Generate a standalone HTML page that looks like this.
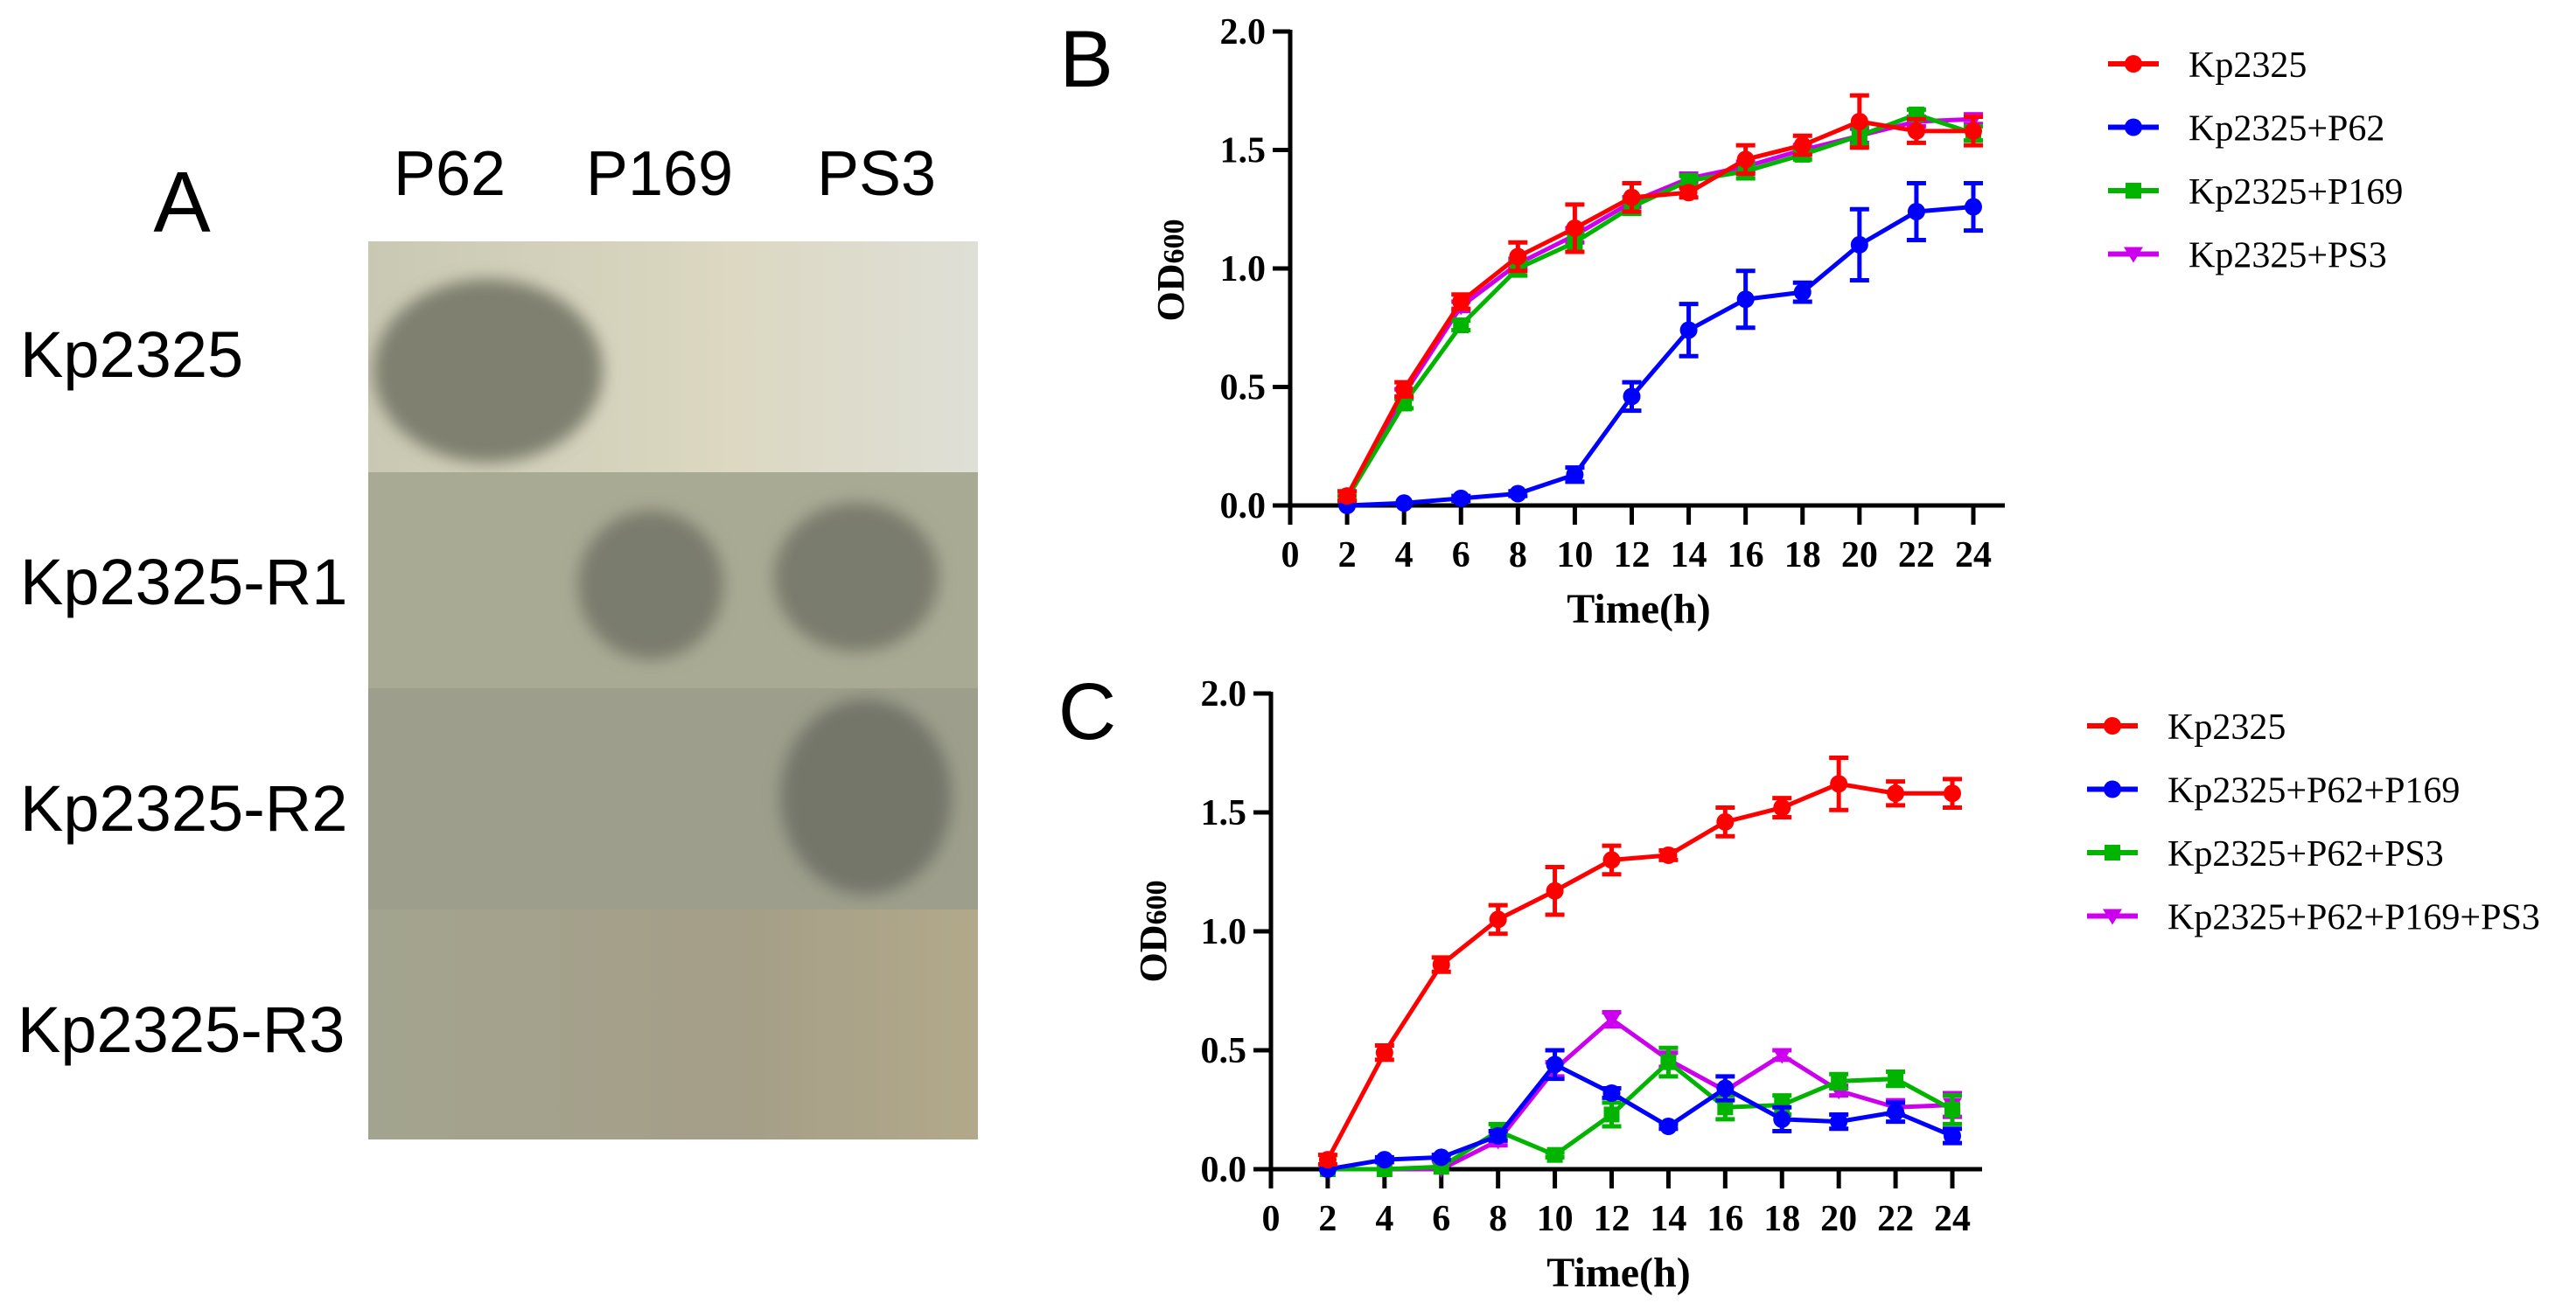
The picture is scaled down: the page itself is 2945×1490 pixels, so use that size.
<!DOCTYPE html>
<html><head><meta charset="utf-8"><style>
html,body{margin:0;padding:0;background:#fff;}
svg{display:block;}
</style></head><body>
<svg id="fig" width="2945" height="1490" viewBox="0 0 2945 1490" xmlns="http://www.w3.org/2000/svg">
<defs>
<linearGradient id="r1" x1="0" x2="1" y1="0" y2="0"><stop offset="0" stop-color="#c9c9b3"/><stop offset="0.6" stop-color="#dcd8c2"/><stop offset="1" stop-color="#dedfd6"/></linearGradient>
<linearGradient id="r4" x1="0" x2="1" y1="0" y2="0"><stop offset="0" stop-color="#a3a48f"/><stop offset="0.6" stop-color="#a59e88"/><stop offset="1" stop-color="#b2a98a"/></linearGradient>
<filter id="blur" x="-30%" y="-30%" width="160%" height="160%"><feGaussianBlur stdDeviation="9"/></filter>
<clipPath id="c1"><rect x="421" y="276" width="697" height="264"/></clipPath>
<clipPath id="c2"><rect x="421" y="540" width="697" height="247"/></clipPath>
<clipPath id="c3"><rect x="421" y="787" width="697" height="253"/></clipPath>
</defs>
<g>
<text x="208" y="265" font-family="Liberation Sans, sans-serif" font-size="98" text-anchor="middle">A</text>
<g font-family="Liberation Sans, sans-serif" font-size="72" text-anchor="middle">
<text x="514" y="223">P62</text>
<text x="754" y="223">P169</text>
<text x="1002" y="223">PS3</text>
</g>
<g font-family="Liberation Sans, sans-serif" font-size="74">
<text x="23" y="431">Kp2325</text>
<text x="23" y="691">Kp2325-R1</text>
<text x="23" y="950">Kp2325-R2</text>
<text x="20" y="1203">Kp2325-R3</text>
</g>
<rect x="421" y="276" width="697" height="264" fill="url(#r1)"/>
<rect x="421" y="540" width="697" height="247" fill="#a9aa94"/>
<rect x="421" y="787" width="697" height="253" fill="#9d9f8c"/>
<rect x="421" y="1040" width="697" height="263" fill="url(#r4)"/>
<ellipse clip-path="url(#c1)" cx="558" cy="424" rx="131" ry="105" fill="#7f8070" filter="url(#blur)"/>
<ellipse clip-path="url(#c2)" cx="744" cy="669" rx="83" ry="85" fill="#7a7b6d" filter="url(#blur)"/>
<ellipse clip-path="url(#c2)" cx="979" cy="660" rx="94" ry="85" fill="#7a7b6d" filter="url(#blur)"/>
<ellipse clip-path="url(#c3)" cx="990" cy="911" rx="98" ry="112" fill="#75766b" filter="url(#blur)"/>
</g>
<g id="chartB"></g>
<g id="chartC"></g>
</svg>
<script>
const hours = [2,4,6,8,10,12,14,16,18,20,22,24];
const xTicks = [0,2,4,6,8,10,12,14,16,18,20,22,24];
const yTicks = [0,0.5,1.0,1.5,2.0];
const yTickLabels = ["0.0","0.5","1.0","1.5","2.0"];
const kpMean = [0.04,0.49,0.86,1.05,1.17,1.30,1.32,1.46,1.52,1.62,1.58,1.58];
const kpErr = [0.02,0.03,0.03,0.06,0.10,0.06,0.02,0.06,0.04,0.11,0.05,0.06];
const p62Mean = [0.00,0.01,0.03,0.05,0.13,0.46,0.74,0.87,0.90,1.10,1.24,1.26];
const p62Err = [0.00,0.00,0.01,0.01,0.03,0.06,0.11,0.12,0.04,0.15,0.12,0.10];
const p169Mean = [0.03,0.43,0.76,1.00,1.11,1.26,1.37,1.41,1.48,1.56,1.65,1.57];
const p169Err = [0.01,0.02,0.02,0.03,0.04,0.03,0.02,0.03,0.02,0.04,0.02,0.03];
const ps3Mean = [0.03,0.47,0.84,1.02,1.14,1.28,1.38,1.43,1.50,1.56,1.62,1.63];
const ps3Err = [0.01,0.02,0.02,0.02,0.03,0.02,0.02,0.02,0.02,0.03,0.02,0.02];
const p62p169Mean = [0.00,0.04,0.05,0.14,0.44,0.32,0.18,0.34,0.21,0.20,0.24,0.14];
const p62p169Err = [0.00,0.01,0.01,0.02,0.06,0.02,0.01,0.05,0.05,0.03,0.04,0.03];
const p62ps3Mean = [0.00,0.00,0.01,0.16,0.06,0.23,0.45,0.26,0.27,0.37,0.38,0.25];
const p62ps3Err = [0.00,0.00,0.00,0.03,0.01,0.05,0.06,0.05,0.04,0.03,0.03,0.06];
const allMean = [0.00,0.00,0.00,0.12,0.42,0.63,0.46,0.33,0.48,0.33,0.26,0.27];
const allErr = [0.00,0.00,0.00,0.02,0.03,0.03,0.03,0.02,0.02,0.02,0.03,0.05];
const namesB = ["Kp2325","Kp2325+P62","Kp2325+P169","Kp2325+PS3"];
const namesC = ["Kp2325","Kp2325+P62+P169","Kp2325+P62+PS3","Kp2325+P62+P169+PS3"];
const colors = ["#ff0000","#0000ff","#00b400","#cc00ee"];
const markers = ["circle","circle","square","tri"];
const NS = "http://www.w3.org/2000/svg";
function mk(parent, tag, attrs){const e=document.createElementNS(NS,tag);for(const k in attrs)e.setAttribute(k,attrs[k]);parent.appendChild(e);return e;}
function marker(g,type,x,y,c){
  let m;
  if(type==="circle") m=mk(g,"circle",{cx:x,cy:y,r:10,fill:c});
  else if(type==="square") m=mk(g,"rect",{x:x-9,y:y-9,width:18,height:18,fill:c});
  else m=mk(g,"polygon",{points:`${x-11},${y-8} ${x+11},${y-8} ${x},${y+10}`,fill:c});
  return m;
}
function drawChart(gid,cfg,series,names){
  const g=document.getElementById(gid);
  const X=v=>cfg.x0+(v/24)*(cfg.x24-cfg.x0);
  const Y=v=>cfg.y0-(v/2)*(cfg.y0-cfg.y2);
  const lbl=mk(g,"text",{x:cfg.lx,y:cfg.ly,"font-family":"Liberation Sans, sans-serif","font-size":92,"text-anchor":"middle"});
  
  
  lbl.textContent=cfg.label;
  const ya=mk(g,"line",{x1:cfg.x0,y1:cfg.y2-2,x2:cfg.x0,y2:cfg.y0+22,stroke:"#000","stroke-width":5});
  
  
  const xa=mk(g,"line",{x1:cfg.x0,y1:cfg.y0,x2:cfg.xEnd,y2:cfg.y0,stroke:"#000","stroke-width":5});
  
  
  yTicks.forEach((v,i)=>{
    const t=mk(g,"line",{x1:cfg.x0-20,y1:Y(v),x2:cfg.x0,y2:Y(v),stroke:"#000","stroke-width":5});
    
    
    const tl=mk(g,"text",{x:cfg.x0-28,y:Y(v)+14,"font-family":"Liberation Serif, serif","font-weight":"bold","font-size":42,"text-anchor":"end"});
    
    
    tl.textContent=yTickLabels[i];
  });
  xTicks.forEach(v=>{
    const t=mk(g,"line",{x1:X(v),y1:cfg.y0,x2:X(v),y2:cfg.y0+22,stroke:"#000","stroke-width":5});
    
    
    const tl=mk(g,"text",{x:X(v),y:cfg.y0+70,"font-family":"Liberation Serif, serif","font-weight":"bold","font-size":42,"text-anchor":"middle"});
    
    
    tl.textContent=String(v);
  });
  const xt=mk(g,"text",{x:(cfg.x0+cfg.x24)/2+8,y:cfg.y0+134,"font-family":"Liberation Serif, serif","font-weight":"bold","font-size":48,"text-anchor":"middle"});
  
  
  xt.textContent="Time(h)";
  const yt=mk(g,"text",{x:0,y:0,transform:`translate(${cfg.ox+15},${cfg.oy}) rotate(-90)`,"font-family":"Liberation Serif, serif","font-weight":"bold","font-size":44,"text-anchor":"middle"});
  
  
  yt.innerHTML='OD<tspan font-size="34">600</tspan>';
  const order=[3,2,1,0];
  order.forEach(si=>{
    const s=series[si];const c=colors[si];
    const sg=mk(g,"g",{});
    
    
    hours.forEach((h,i)=>{
      if(s.err[i]>0){
        const x=X(h),a=Y(s.mean[i]+s.err[i]),b=Y(s.mean[i]-s.err[i]);
        const eb=mk(sg,"path",{d:`M${x},${a}V${b}M${x-11},${a}H${x+11}M${x-11},${b}H${x+11}`,stroke:c,"stroke-width":5,fill:"none"});
        
        
      }
    });
    const ln=mk(sg,"polyline",{points:hours.map((h,i)=>X(h)+","+Y(s.mean[i])).join(" "),stroke:c,"stroke-width":5,fill:"none","stroke-linejoin":"round"});
    
    
    hours.forEach((h,i)=>{
      const m=marker(sg,markers[si],X(h),Y(s.mean[i]),c);
      
      
    });
  });
  names.forEach((n,i)=>{
    const lg=mk(g,"g",{});
    
    
    const y=cfg.legY+i*72.5;
    mk(lg,"line",{x1:cfg.legX,y1:y,x2:cfg.legX+58,y2:y,stroke:colors[i],"stroke-width":6});
    marker(lg,markers[i],cfg.legX+29,y,colors[i]);
    const t=mk(lg,"text",{x:cfg.legX+92,y:y+15,"font-family":"Liberation Serif, serif","font-size":42});
    t.textContent=n;
  });
}
drawChart("chartB",{x0:1475,x24:2256,xEnd:2292,y0:578,y2:36,label:"B",lx:1242,ly:99,ox:1338,oy:309,legX:2410,legY:73},
  [{mean:kpMean,err:kpErr},{mean:p62Mean,err:p62Err},{mean:p169Mean,err:p169Err},{mean:ps3Mean,err:ps3Err}],namesB);
drawChart("chartC",{x0:1453,x24:2232,xEnd:2266,y0:1337,y2:793,label:"C",lx:1243,ly:845,ox:1318,oy:1065,legX:2386,legY:830},
  [{mean:kpMean,err:kpErr},{mean:p62p169Mean,err:p62p169Err},{mean:p62ps3Mean,err:p62ps3Err},{mean:allMean,err:allErr}],namesC);
</script>
</body></html>
